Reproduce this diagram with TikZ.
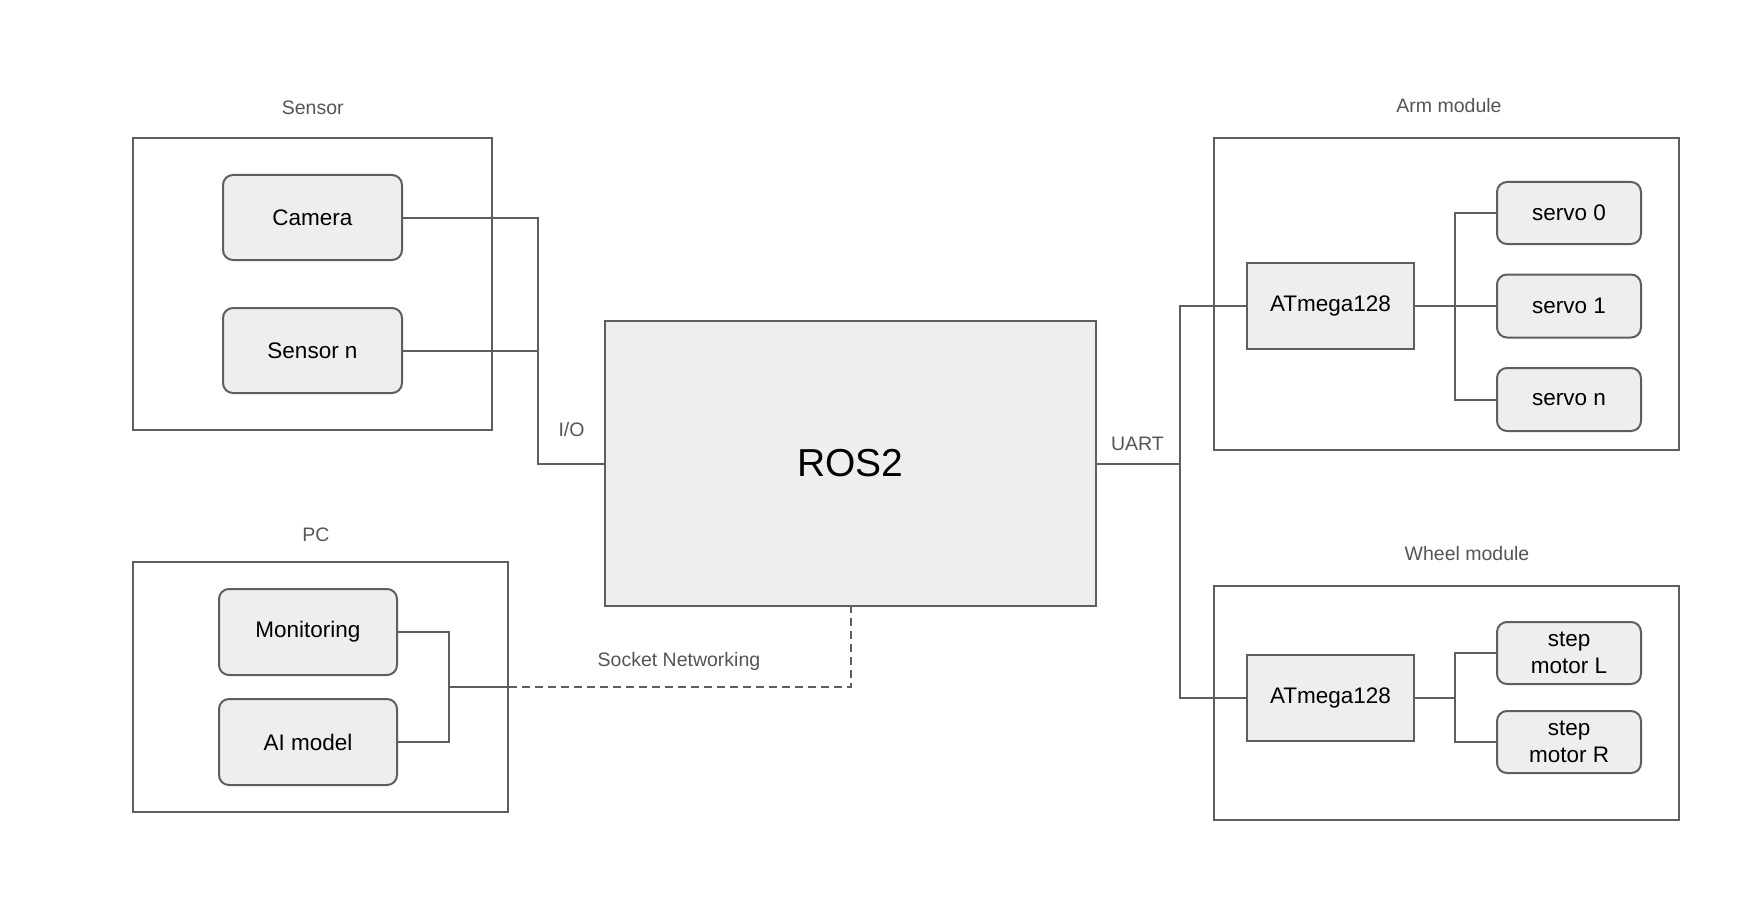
\documentclass[tikz,border=0pt]{standalone}
\usepackage{fontspec}
\setmainfont{Liberation Sans}
\usetikzlibrary{calc}
\definecolor{lc}{HTML}{5E5E5E}
\definecolor{boxfill}{HTML}{EEEEEE}
\definecolor{lblgrey}{HTML}{555555}
\tikzset{
  grp/.style={draw=lc, line width=2pt, fill=none, inner sep=0pt},
  dev/.style={draw=lc, line width=2pt, fill=boxfill, rounded corners=10pt, inner sep=0pt, align=center,
    font=\fontsize{22.5}{27.5}\selectfont},
  chip/.style={draw=lc, line width=2pt, fill=boxfill, inner sep=0pt, align=center,
    font=\fontsize{22.5}{27.5}\selectfont},
  lbl/.style={text=lblgrey, inner sep=0pt, font=\fontsize{19.5}{22}\selectfont},
  wire/.style={draw=lc, line width=2pt},
}
\begin{document}
\begin{tikzpicture}[x=1pt,y=-1pt]
\useasboundingbox[fill=white] (0,0) rectangle (1757,915);

% groups
\node[grp, minimum width=359pt, minimum height=292pt] (gs) at (312.5,284) {};
\node[grp, minimum width=375pt, minimum height=250pt] (gp) at (320.5,687) {};
\node[grp, minimum width=465pt, minimum height=312pt] (ga) at (1446.5,294) {};
\node[grp, minimum width=465pt, minimum height=234pt] (gw) at (1446.5,703) {};

% group labels
\node[lbl] (ls) at (312.7,107.5) {Sensor};
\node[lbl] (lp) at (316,535) {PC};
\node[lbl] (la) at (1449,106) {Arm module};
\node[lbl] (lw) at (1467,554) {Wheel module};

% devices
\node[dev, minimum width=179pt, minimum height=85pt] (cam) at (312.5,217.5) {Camera};
\node[dev, minimum width=179pt, minimum height=85pt] (sn) at (312.5,350.5) {Sensor n};
\node[dev, minimum width=178pt, minimum height=86pt] (mon) at (308,632) {Monitoring};
\node[dev, minimum width=178pt, minimum height=86pt] (ai) at (308,742) {AI model};

\node[chip, minimum width=491pt, minimum height=285pt, font=\fontsize{39}{44}\selectfont] (ros) at (850.5,463.5) {ROS2};

\node[chip, minimum width=167pt, minimum height=86pt] (atA) at (1330.5,306) {ATmega128};
\node[dev, minimum width=144pt, minimum height=62pt] (s0) at (1569,213) {servo 0};
\node[dev, minimum width=144pt, minimum height=63pt] (s1) at (1569,306) {servo 1};
\node[dev, minimum width=144pt, minimum height=63pt] (sN) at (1569,399.5) {servo n};

\node[chip, minimum width=167pt, minimum height=86pt] (atW) at (1330.5,698) {ATmega128};
\node[dev, minimum width=144pt, minimum height=62pt] (mL) at (1569,653) {step\\motor L};
\node[dev, minimum width=144pt, minimum height=62pt] (mR) at (1569,742) {step\\motor R};

% bus coordinates
\coordinate (lb) at (538,0);
\coordinate (rb) at (1180,0);
\coordinate (ab) at (1455,0);
\coordinate (pb) at (449,687);

% left connections
\draw[wire] (cam.east) -- (cam.east -| lb) -- (ros.west -| lb) -- (ros.west);
\draw[wire] (sn.east) -- (sn.east -| lb);

% right connections
\draw[wire] (atA.west) -- (atA.west -| rb) -- (atW.west -| rb) -- (atW.west);
\draw[wire] (ros.east) -- (ros.east -| rb);

% arm module
\draw[wire] (atA.east) -- (s1.west);
\draw[wire] (s0.west) -- (s0.west -| ab) -- (sN.west -| ab) -- (sN.west);

% wheel module
\draw[wire] (atW.east) -- (atW.east -| ab);
\draw[wire] (mL.west) -- (mL.west -| ab) -- (mR.west -| ab) -- (mR.west);

% PC
\draw[wire] (mon.east) -- (mon.east -| pb) -- (ai.east -| pb) -- (ai.east);
\draw[wire] (pb) -- (pb -| gp.east);
\draw[wire, dash pattern=on 8pt off 5pt] (pb -| gp.east) -- (pb -| ros.south) -- (ros.south);

% connector labels
\node[lbl] (lio) at (571.5,430) {I/O};
\node[lbl] (luart) at (1137.5,444) {UART};
\node[lbl] (lsock) at (679,661) {Socket Networking};
\end{tikzpicture}
\end{document}
